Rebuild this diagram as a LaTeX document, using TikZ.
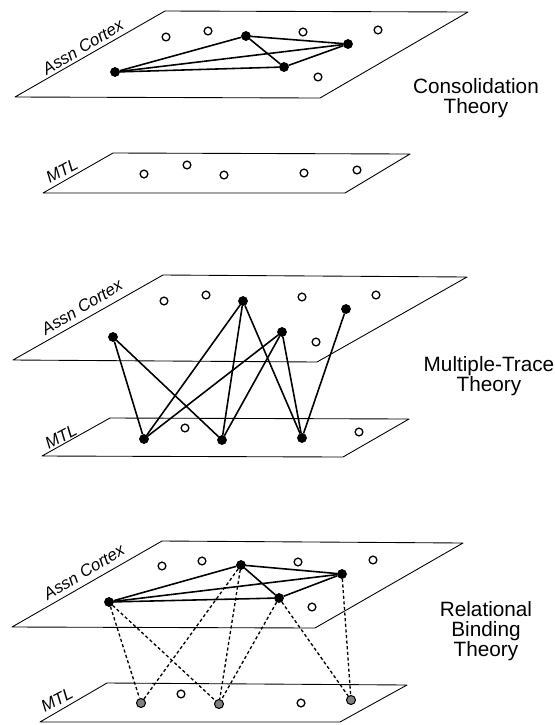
\documentclass[tikz,border=0pt]{standalone}
\usepackage{fontspec}
\newfontfamily\helv{Liberation Sans}
\usetikzlibrary{positioning}

\begin{document}
\begin{tikzpicture}[x=0.02cm,y=-0.02cm,
    plane/.style={draw,line width=0.5pt,line join=round},
    open/.style={circle,draw,line width=0.75pt,inner sep=0pt,minimum size=0.155cm},
    full/.style={circle,draw,fill=black,inner sep=0pt,minimum size=0.18cm},
    grey/.style={circle,draw,fill=black!50,line width=0.6pt,inner sep=0pt,minimum size=0.18cm},
    link/.style={line width=0.9pt},dlink/.style={line width=0.75pt,dash pattern=on 1.8pt off 1.4pt},
    area/.style={font=\helv\itshape\fontsize{9.5}{10}\selectfont,inner sep=0pt},
    theory/.style={align=center,font=\helv\fontsize{11.8}{11.2}\selectfont}]
    \useasboundingbox (0,0) rectangle (555,725);
    % consolidation theory
    \draw[plane] (165,11)--(468,12)--(320,98)--(15,97)--cycle;
    \draw[plane] (113,153)--(410,154)--(345,193)--(43,193)--cycle;
    \node[area,rotate=31] (ctx1) at (83,47) {Assn Cortex};
    \node[area,rotate=28] (mtl1) at (62,171) {MTL};
    \foreach \p [count=\i] in {(166,37),(208,31),(303,32),(378,30),(318,77)} \node[open] (co\i) at \p {};
    \foreach \p [count=\i] in {(144,174),(187,165),(224,175),(304,173),(357,170)} \node[open] (mo\i) at \p {};
    \node[full] (ca) at (115,72) {};\node[full] (cb) at (246,36) {};
    \node[full] (cc) at (284,67) {};\node[full] (cd) at (348,44) {};
    \draw[link](ca)--(cb);\draw[link](ca)--(cc);\draw[link](ca)--(cd);
    \draw[link](cb)--(cc);\draw[link](cb)--(cd);\draw[link](cc)--(cd);
    \node[theory] (cons) at (476,98) {Consolidation\\Theory};
    % multiple-trace theory
    \draw[plane] (163,275)--(467,277)--(317,362)--(13,360)--cycle;
    \draw[plane] (110,418)--(409,419)--(343,457)--(42,456)--cycle;
    \node[area,rotate=31] (ctx2) at (82,307) {Assn Cortex};
    \node[area,rotate=28] (mtl2) at (61,437) {MTL};
    \foreach \p [count=\i] in {(164,301),(206,295),(302,297),(376,295),(316,342)} \node[open] (to\i) at \p {};
    \foreach \p [count=\i] in {(185,428),(359,432)} \node[open] (uo\i) at \p {};
    \node[full] (ta) at (113,337) {};\node[full] (tb) at (243,301) {};
    \node[full] (tc) at (282,332) {};\node[full] (td) at (346,309) {};
    \node[full] (ma) at (144,439) {};\node[full] (mb) at (222,440) {};\node[full] (mc) at (302,438) {};
    \draw[link](ta)--(ma);\draw[link](ta)--(mb);
    \draw[link](tb)--(ma);\draw[link](tb)--(mb);\draw[link](tb)--(mc);
    \draw[link](tc)--(ma);\draw[link](tc)--(mb);\draw[link](tc)--(mc);
    \draw[link](td)--(mc);
    \node[theory] (mult) at (489,376) {Multiple-Trace\\Theory};
    % relational binding theory
    \draw[plane] (162,541)--(463,543)--(315,628)--(12,627)--cycle;
    \draw[plane] (107,683)--(407,685)--(340,722)--(40,722)--cycle;
    \node[area,rotate=31] (ctx3) at (84,572) {Assn Cortex};
    \node[area,rotate=28] (mtl3) at (57,700) {MTL};
    \foreach \p [count=\i] in {(162,566),(202,561),(298,562),(373,560),(312,607)} \node[open] (ro\i) at \p {};
    \foreach \p [count=\i] in {(181,694),(301,703)} \node[open] (go\i) at \p {};
    \node[full] (ra) at (109,602) {};\node[full] (rb) at (241,565) {};
    \node[full] (rc) at (279,598) {};\node[full] (rd) at (342,574) {};
    \node[grey] (ga) at (141,703) {};\node[grey] (gb) at (219,704) {};\node[grey] (gc) at (351,700) {};
    \draw[link](ra)--(rb);\draw[link](ra)--(rc);\draw[link](ra)--(rd);
    \draw[link](rb)--(rc);\draw[link](rb)--(rd);\draw[link](rc)--(rd);
    \draw[dlink](ra)--(ga);\draw[dlink](ra)--(gb);
    \draw[dlink](rb)--(ga);\draw[dlink](rb)--(gb);
    \draw[dlink](rc)--(gb);\draw[dlink](rc)--(gc);\draw[dlink](rd)--(gc);
    \node[theory] (rel) at (486,631) {Relational\\Binding\\Theory};
\end{tikzpicture}
\end{document}
